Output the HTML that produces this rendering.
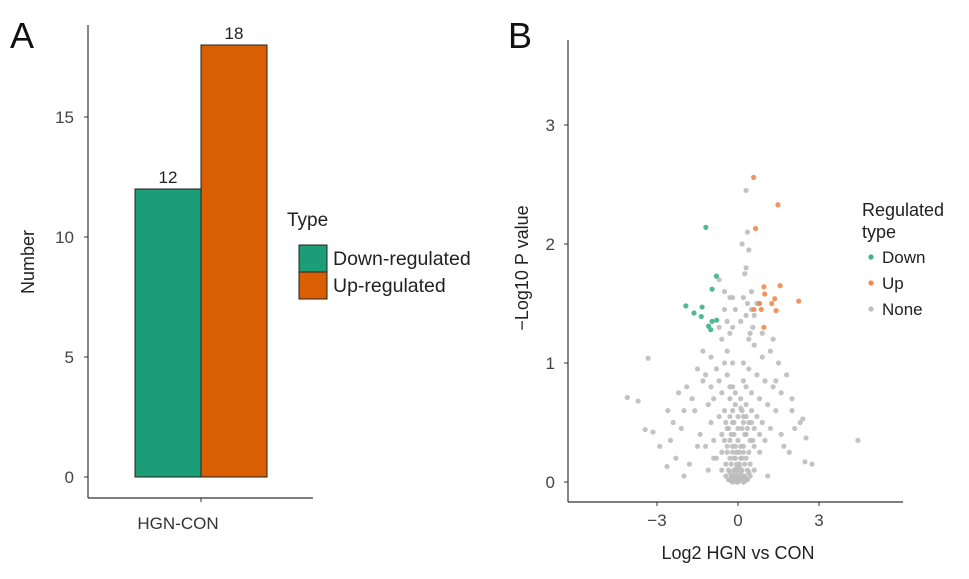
<!DOCTYPE html>
<html><head><meta charset="utf-8"><style>
html,body{margin:0;padding:0;background:#fff;}
svg{display:block;font-family:"Liberation Sans",Arial,sans-serif;}
</style></head><body>
<svg id="fig" width="969" height="579" viewBox="0 0 969 579">
<text x="10" y="48" font-size="36" fill="#111">A</text>
<text x="508" y="48" font-size="36" fill="#111">B</text>
<g id="pa"></g>
<g id="pb"></g>
</svg>
<script>
const barCategories=["Down-regulated","Up-regulated"];
const barValues=[12,18];
const barColors=["#1b9e77","#d95f02"];
const barTicks=[0,5,10,15];
const upX=[0.58,1.48,0.65,0.96,1.56,0.99,1.36,1.25,2.25,1.41,0.79,0.59,0.86,0.96];
const upY=[2.56,2.33,2.13,1.64,1.65,1.58,1.54,1.50,1.52,1.44,1.50,1.45,1.45,1.30];
const downX=[-1.19,-0.80,-0.96,-1.93,-1.33,-1.63,-1.36,-0.96,-0.79,-1.09,-1.01];
const downY=[2.14,1.73,1.62,1.48,1.47,1.42,1.39,1.35,1.36,1.31,1.28];
const noneX=[
-4.1,-3.7,-3.33,-3.44,-3.15,-2.63,4.44,2.52,2.48,2.74,
2.4,0.3,0.15,0.35,0.4,-0.5,0.3,0.25,0.35,-0.2,
0.1,0.3,0.5,-0.3,-0.6,-0.4,0.55,0.2,-0.1,0.45,
-1.0,-1.5,-1.2,-0.8,-0.5,0.4,0.6,0.9,1.2,1.5,
1.8,-1.9,-2.2,-2.0,-1.7,-2.4,-1.3,-1.0,-0.7,-0.4,
-0.2,0.2,0.4,0.7,1.0,1.3,1.6,2.0,-1.6,-1.1,
-0.9,-0.6,-0.3,0.3,0.5,0.8,1.1,1.4,-1.4,-1.0,
-0.7,-0.5,-0.3,-0.1,0.1,0.3,0.5,0.7,0.9,1.2,
-1.2,-0.9,-0.6,-0.4,-0.2,0.0,0.2,0.4,0.6,0.8,
1.0,-0.8,-0.6,-0.4,-0.3,-0.15,0.0,0.15,0.3,0.45,
0.6,0.8,-0.6,-0.45,-0.3,-0.2,-0.1,0.0,0.1,0.2,
0.3,0.45,0.6,-0.45,-0.35,-0.25,-0.15,-0.05,0.05,0.15,
0.25,0.35,0.45,-0.35,-0.25,-0.15,-0.05,0.05,0.15,0.25,
0.35,-0.3,-0.2,-0.1,0.0,0.1,0.2,0.3,-0.25,-0.15,
-0.05,0.05,0.15,0.25,-0.2,-0.1,0.0,0.1,0.2,-2.9,
-2.6,-2.3,-2.1,1.7,2.0,2.3,1.9,-1.8,-2.5,1.4,
-0.9,1.1,-0.7,0.9,-0.5,0.6,-1.5,1.6,-2.0,2.1,
-1.1,0.8,-0.3,-1.3,1.3,-0.4,0.5,-0.7,0.7,-0.2,
-0.2,-0.15,-0.25,-0.2,-0.1,0.15,0.2,0.25,0.2,0.1,
-0.3,-0.35,0.3,0.35,-0.05,0.05,-0.4,0.4,-0.3,0.4,
-0.5,0.55,-0.45,0.5,-0.1,0.1,-0.2,0.2,0.0,-0.05];
const noneY=[
0.71,0.68,1.04,0.44,0.42,0.13,0.35,0.37,0.17,0.15,
0.53,2.45,2.0,2.1,1.95,1.6,1.8,1.75,1.5,1.3,
1.35,1.4,1.45,1.25,1.2,1.1,1.3,1.55,1.45,1.25,
1.05,0.95,0.9,0.95,1.0,1.2,1.15,1.05,1.1,1.0,
0.9,0.8,0.75,0.6,0.7,0.5,0.85,0.8,0.85,0.9,
1.0,1.0,0.95,0.9,0.85,0.8,0.75,0.7,0.6,0.65,
0.7,0.75,0.8,0.8,0.75,0.7,0.65,0.6,0.4,0.5,
0.55,0.6,0.7,0.75,0.7,0.65,0.6,0.55,0.5,0.45,
0.3,0.35,0.4,0.45,0.5,0.55,0.55,0.5,0.45,0.4,
0.35,0.2,0.25,0.3,0.35,0.4,0.45,0.45,0.4,0.35,
0.3,0.25,0.1,0.15,0.2,0.25,0.3,0.35,0.3,0.25,
0.2,0.15,0.1,0.05,0.1,0.15,0.2,0.25,0.25,0.2,
0.15,0.1,0.05,0.02,0.05,0.1,0.15,0.15,0.1,0.05,
0.02,0.02,0.05,0.08,0.1,0.08,0.05,0.02,0.01,0.03,
0.05,0.05,0.03,0.01,0.0,0.02,0.04,0.02,0.0,0.3,
0.6,0.2,0.45,0.3,0.6,0.5,0.25,0.15,0.35,0.85,
0.2,0.05,1.3,1.25,1.45,1.4,0.3,0.4,0.05,0.45,
0.1,1.5,1.55,1.1,1.2,1.35,1.6,1.7,1.5,1.55,
0.6,0.5,0.4,0.3,0.2,0.6,0.5,0.4,0.3,0.2,
0.55,0.45,0.55,0.45,0.12,0.12,0.25,0.25,0.08,0.08,
0.35,0.35,0.5,0.5,0.65,0.62,0.8,0.85,0.0,0.0];
const volXTicks=[-3,0,3];
const volYTicks=[0,1,2,3];
const NS="http://www.w3.org/2000/svg";
function mk(p,t,a,txt){const e=document.createElementNS(NS,t);for(const k in a)e.setAttribute(k,a[k]);if(txt!==undefined)e.textContent=txt;p.appendChild(e);return e;}
// Panel A
const pa=document.getElementById('pa');
const ay=v=>477-v*24;
const bx0=135,bw=66;
let e=mk(pa,'line',{x1:88,y1:25,x2:88,y2:498,stroke:'#333','stroke-width':1.2});

e=mk(pa,'line',{x1:88,y1:498,x2:313,y2:498,stroke:'#333','stroke-width':1.2});

barTicks.forEach(t=>{
 mk(pa,'line',{x1:84,y1:ay(t),x2:88,y2:ay(t),stroke:'#333'});
 e=mk(pa,'text',{x:74,y:ay(t)+6,'text-anchor':'end','font-size':17,fill:'#444'},String(t));
 
});
barValues.forEach((v,i)=>{
 const x=bx0+i*bw;
 e=mk(pa,'rect',{x:x,y:ay(v),width:bw,height:ay(0)-ay(v),fill:barColors[i],stroke:'#222','stroke-width':1});
 
 e=mk(pa,'text',{x:x+bw/2,y:ay(v)-6,'text-anchor':'middle','font-size':17,fill:'#222'},String(v));
 
});
mk(pa,'line',{x1:201,y1:498,x2:201,y2:502,stroke:'#333'});
e=mk(pa,'text',{x:178,y:529,'text-anchor':'middle','font-size':17,fill:'#333'},'HGN-CON');

e=mk(pa,'text',{x:34,y:262,'text-anchor':'middle','font-size':18,fill:'#222',transform:'rotate(-90 34 262)'},'Number');

e=mk(pa,'text',{x:287,y:226,'font-size':19,fill:'#222'},'Type');

barCategories.forEach((c,i)=>{
 const y=245+i*27;
 e=mk(pa,'rect',{x:299,y:y,width:28,height:27,fill:barColors[i],stroke:'#222','stroke-width':1});
 
 e=mk(pa,'text',{x:333,y:y+20,'font-size':19.5,fill:'#222'},c);
 
});
// Panel B
const pb=document.getElementById('pb');
const vx=v=>738+v*27, vy=v=>482-v*119;
e=mk(pb,'line',{x1:568,y1:40,x2:568,y2:502,stroke:'#333','stroke-width':1.2});

e=mk(pb,'line',{x1:568,y1:502,x2:903,y2:502,stroke:'#333','stroke-width':1.2});

volYTicks.forEach(t=>{
 mk(pb,'line',{x1:564,y1:vy(t),x2:568,y2:vy(t),stroke:'#333'});
 e=mk(pb,'text',{x:555,y:vy(t)+6,'text-anchor':'end','font-size':17,fill:'#444'},String(t));
 
});
volXTicks.forEach(t=>{
 mk(pb,'line',{x1:vx(t),y1:502,x2:vx(t),y2:506,stroke:'#333'});
 e=mk(pb,'text',{x:vx(t),y:526,'text-anchor':'middle','font-size':17,fill:'#444'},t<0?'\u2212'+Math.abs(t):String(t));
 
});
function pts(xs,ys,col,name){xs.forEach((x,i)=>{
 if(ys[i]===undefined)return;
 const c=mk(pb,'circle',{cx:vx(x),cy:vy(ys[i]),r:2.6,fill:col,'fill-opacity':0.9});
 
 
});}
pts(noneX,noneY,'#bdbdbd','point-none');
pts(downX,downY,'#3cb38a','point-down');
pts(upX,upY,'#f4874f','point-up');
e=mk(pb,'text',{x:738,y:559,'text-anchor':'middle','font-size':18,fill:'#222'},'Log2 HGN vs CON');

e=mk(pb,'text',{x:528,y:268,'text-anchor':'middle','font-size':18,fill:'#222',transform:'rotate(-90 528 268)'},'\u2212Log10 P value');

e=mk(pb,'text',{x:862,y:216,'font-size':18,fill:'#222'},'Regulated');

mk(pb,'text',{x:862,y:238,'font-size':18,fill:'#222'},'type');
[['Down','#3cb38a'],['Up','#f4874f'],['None','#bdbdbd']].forEach((d,i)=>{
 const y=257+i*26;
 mk(pb,'circle',{cx:871,cy:y,r:2.6,fill:d[1]});
 e=mk(pb,'text',{x:882,y:y+6,'font-size':17,fill:'#222'},d[0]);
 
});
</script>
</body></html>
